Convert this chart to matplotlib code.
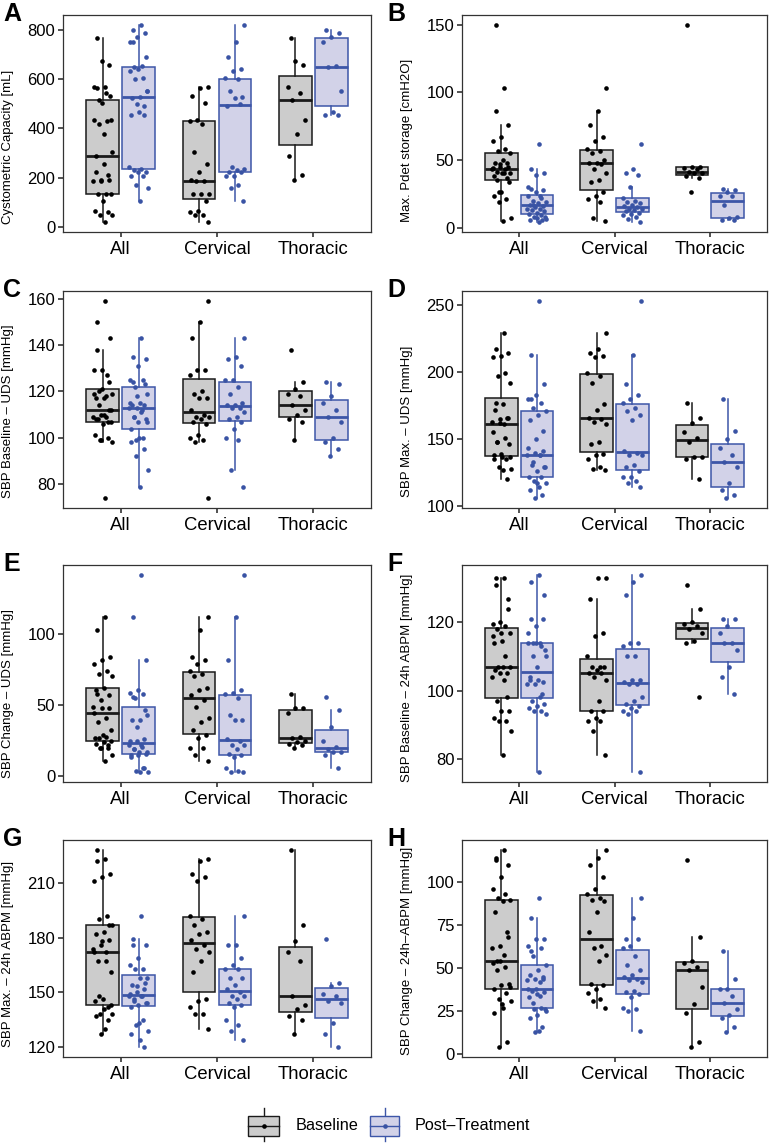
import numpy as np
import matplotlib
matplotlib.use("Agg")
import matplotlib.pyplot as plt
from matplotlib.ticker import MultipleLocator
from matplotlib.patches import Rectangle

plt.rcParams['font.family'] = ['Liberation Sans', 'DejaVu Sans']

# ---------------- data ----------------
groups = ["All", "Cervical", "Thoracic"]
series = ["Baseline", "Post\u2013Treatment"]

a_cerv_base = [569, 563, 530, 502, 436, 432, 420, 306, 254, 225, 189, 185, 185, 136, 135, 136, 107, 66, 61, 47, 47, 20]
a_thor_base = [768, 657, 673, 569, 544, 515, 434, 378, 290, 212, 192]
a_cerv_post = [820, 749, 691, 641, 633, 603, 600, 550, 529, 523, 490, 499, 243, 236, 232, 225, 223, 209, 206, 171, 158, 104]
a_thor_post = [799, 789, 772, 751, 652, 648, 553, 468, 455, 455]

b_cerv_base = [103, 86, 76, 67, 64, 58, 57, 55, 50, 48, 48, 47, 43, 40, 35, 34, 26, 23, 21, 19, 7, 5]
b_thor_base = [150, 45, 45, 44, 43, 41, 40, 40, 38, 37, 26]
b_cerv_post = [62, 43, 40, 39, 30, 22, 20, 19, 18, 17, 16, 15, 14, 14, 13, 12, 11, 10, 9, 8, 6, 4]
b_thor_post = [28.5, 28, 26, 23.5, 23, 17, 8, 7, 5.7, 5.7]

c_cerv_base = [159, 150, 143, 129, 129, 127, 120, 119, 117, 117, 112, 110, 109, 109, 108, 107, 106, 101, 100, 99, 98, 74]
c_thor_base = [138, 124, 121, 119, 118, 114, 112, 110, 108, 107, 99]
c_cerv_post = [143, 135, 134, 131, 125, 125, 122, 119, 115, 114, 114, 113, 113, 111, 109, 108, 107, 104, 100, 99, 86, 79]
c_thor_post = [124, 123, 118, 115, 112, 109, 107, 100, 98, 95, 92]

d_cerv_base = [229, 217, 214, 212, 211, 199, 197, 192, 176, 172, 166, 165, 163, 161, 148, 146, 139, 138, 135, 129, 128, 127]
d_thor_base = [177, 166, 162, 155, 151, 148, 137, 137, 135, 120]
d_cerv_post = [253, 213, 191, 183, 180, 177, 173, 171, 168, 164, 141, 140, 138, 138, 131, 129, 126, 122, 122, 119, 117, 114]
d_thor_post = [180, 156, 150, 143, 138, 133, 129, 117, 112, 108, 106]

e_cerv_base = [112, 103, 84, 82, 79, 74, 72, 71, 62, 61, 57, 54, 49, 41, 38, 33, 29, 27, 20, 20, 15, 11]
e_thor_base = [58, 48, 48, 45, 28, 27, 25, 24, 23, 22, 20]
e_cerv_post = [142, 112, 82, 61, 59, 58, 55, 43, 40, 40, 26, 25, 22, 22, 19, 16, 15, 14, 6, 4, 3, 3]
e_thor_post = [56, 47, 35, 25, 21, 19, 17, 17, 15, 6]

f_cerv_base = [133, 133, 127, 117, 116, 110, 107, 107, 107, 106, 105, 105, 104, 103, 97, 94, 94, 92, 91, 91, 88, 81]
f_thor_base = [131, 124, 120, 119.5, 119, 118, 117, 114.5, 114, 98]
f_cerv_post = [134, 132, 128, 114, 114, 113, 110, 110, 103, 103, 102.5, 102, 102, 98, 97, 96, 95.5, 95, 94, 94, 93, 76]
f_thor_post = [121, 121, 119, 117, 114, 114, 112, 107, 104, 99]

g_cerv_base = [223, 222, 215, 213, 211, 192, 190, 187, 183, 182, 178.5, 176, 174, 172, 167, 161, 146.5, 145, 142, 138, 138, 130]
g_thor_base = [228, 187, 178, 172, 167, 148, 143, 141, 137, 135, 127]
g_cerv_post = [192, 176, 176, 169, 165, 163, 163, 158, 158, 154, 152, 150, 148, 148, 146.5, 144, 143, 142, 135, 132, 129, 124]
g_thor_post = [179, 155, 153.5, 149, 148, 145, 144, 133, 127, 120]

h_cerv_base = [119, 114, 110, 103, 96, 93, 91, 90, 89, 83, 71, 63, 62, 58, 54, 41, 40, 38, 35.5, 32, 31, 27]
h_thor_base = [113, 68, 54, 53, 51, 49, 39, 29, 24, 7, 4]
h_cerv_post = [91, 79, 67, 67, 63, 62, 57, 52, 49, 46, 45, 44, 43, 42, 37, 36, 35, 33, 27, 26, 25, 13.6]
h_thor_post = [60, 44, 38, 38, 34, 30, 26, 23, 21, 16, 13]

panel_letters = ["A", "B", "C", "D", "E", "F", "G", "H"]
y_labels = [
    "Cystometric Capacity [mL]",
    "Max. Pdet storage [cmH2O]",
    "SBP Baseline \u2013 UDS [mmHg]",
    "SBP Max. \u2013 UDS [mmHg]",
    "SBP Change \u2013 UDS [mmHg]",
    "SBP Baseline \u2013 24h ABPM [mmHg]",
    "SBP Max. \u2013 24h ABPM [mmHg]",
    "SBP Change \u2013 24h\u2013ABPM [mmHg]",
]
panel_data = [
    (a_cerv_base, a_thor_base, a_cerv_post, a_thor_post),
    (b_cerv_base, b_thor_base, b_cerv_post, b_thor_post),
    (c_cerv_base, c_thor_base, c_cerv_post, c_thor_post),
    (d_cerv_base, d_thor_base, d_cerv_post, d_thor_post),
    (e_cerv_base, e_thor_base, e_cerv_post, e_thor_post),
    (f_cerv_base, f_thor_base, f_cerv_post, f_thor_post),
    (g_cerv_base, g_thor_base, g_cerv_post, g_thor_post),
    (h_cerv_base, h_thor_base, h_cerv_post, h_thor_post),
]
y_steps = [200, 50, 20, 50, 50, 20, 30, 25]
label_ypos = [0.39, 0.42, 0.445, 0.40, 0.41, 0.48, 0.475, 0.49]

# ---------------- style ----------------
W, H = 771, 1143
fig = plt.figure(figsize=(W / 100, H / 100), dpi=100)

base_edge = "#1a1a1a"
base_fill = "#cccccc"
post_edge = "#3d56a8"
post_fill = "#d2d2e8"
base_pt = "#000000"
post_pt = "#3953a4"

col_left = [63, 462]
col_width = [308, 305]
row_top = [15, 291, 565, 840]
ax_h = 217
label_x = [-0.159, -0.161]

dodge = 0.1875
box_w = 0.34
jit = 0.105


def jitter(n, k):
    # deterministic low-discrepancy spread inside the dodge slot
    idx = np.arange(n) + 1 + 7 * k
    return (((idx * 0.6180339887) % 1.0) - 0.5) * 2 * jit


for p in range(8):
    r, c = divmod(p, 2)
    left = col_left[c] / W
    bottom = 1 - (row_top[r] + ax_h) / H
    ax = fig.add_axes([left, bottom, col_width[c] / W, ax_h / H])

    cb, tb, cp, tp = panel_data[p]
    base_sets = [cb + tb, cb, tb]
    post_sets = [cp + tp, cp, tp]
    centers = np.arange(1, len(groups) + 1)

    for sets, off, edge, fill, ptc, k in [
        (base_sets, -dodge, base_edge, base_fill, base_pt, 0),
        (post_sets, dodge, post_edge, post_fill, post_pt, 1),
    ]:
        pos = centers + off
        ax.boxplot(
            sets, positions=pos, widths=box_w, patch_artist=True,
            showfliers=False, showcaps=False, whis=1.5, manage_ticks=False,
            boxprops=dict(facecolor=fill, edgecolor=edge, linewidth=1.1),
            whiskerprops=dict(color=edge, linewidth=1.1),
            medianprops=dict(color=edge, linewidth=2.0),
            zorder=2,
        )
        for gi, vals in enumerate(sets):
            xs = pos[gi] + jitter(len(vals), gi + 3 * k)
            ax.scatter(xs, vals, s=11, color=ptc, linewidths=0, zorder=3)

    ax.set_xlim(0.4, 3.6)
    ax.set_xticks(centers)
    ax.set_xticklabels(groups)
    ax.yaxis.set_major_locator(MultipleLocator(y_steps[p]))
    ax.tick_params(axis="both", which="major", length=3.5, width=1.2,
                   color="#333333", labelcolor="black", pad=2)
    ax.tick_params(axis="y", labelsize=12)
    ax.tick_params(axis="x", labelsize=13.3, pad=3)
    for s in ax.spines.values():
        s.set_color("#333333")
        s.set_linewidth(0.9)
    ax.set_ylabel(y_labels[p], fontsize=9.5)
    ax.yaxis.set_label_coords(label_x[c], label_ypos[p])

    fig.text((3 + 384 * c) / W, 1 - (row_top[r] - 13) / H, panel_letters[p],
             fontsize=18, fontweight="bold", va="top", ha="left")

# ---------------- legend ----------------
lax = fig.add_axes([0, 0, 1, 45 / H])
lax.set_xlim(0, W)
lax.set_ylim(H, H - 45)
lax.axis("off")
keys = [(248, 279, base_edge, base_fill, base_pt, 296, series[0]),
        (370, 399, post_edge, post_fill, post_pt, 415, series[1])]
for x0, x1, ec, fc, pc, tx, lab in keys:
    xm = (x0 + x1) / 2
    lax.plot([xm, xm], [1108, 1141], color=ec, lw=1.0, zorder=1)
    lax.add_patch(Rectangle((x0, 1116), x1 - x0, 20, facecolor=fc, edgecolor=ec, lw=1.0, zorder=2))
    lax.plot([x0, x1], [1126, 1126], color=ec, lw=1.0, zorder=3)
    lax.scatter([xm], [1126], s=11, color=pc, zorder=4, linewidths=0)
    lax.text(tx, 1126, lab, fontsize=11.7, va="center", ha="left")

fig.savefig("out.png", dpi=100)
